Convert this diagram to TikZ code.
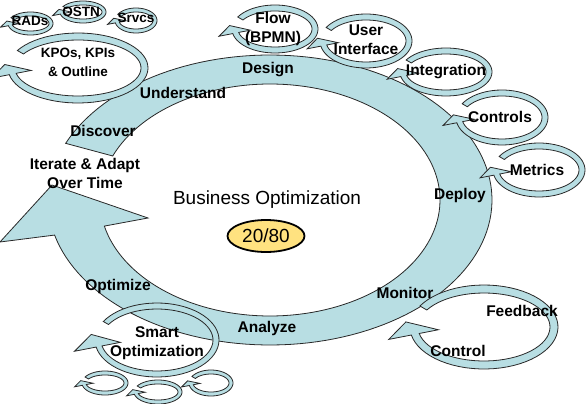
\documentclass[tikz,border=0pt]{standalone}
\usepackage{fontspec}
\setmainfont{Liberation Sans}
\usetikzlibrary{shapes.geometric}

\definecolor{ringblue}{RGB}{184,222,227}
\definecolor{ratioyellow}{RGB}{255,226,128}
\definecolor{edgegray}{RGB}{40,40,40}

\tikzset{
  ringshape/.style={fill=ringblue,draw=edgegray,line width=0.8pt},
  steplbl/.style={font=\fontsize{15.5}{19}\selectfont\bfseries,align=center,inner sep=0pt},
  tinylbl/.style={font=\fontsize{13.5}{19}\selectfont\bfseries,align=center,inner sep=0pt},
}

% cycle arrow: centre x, centre y, x radius, y radius, band width, head size
\newcommand\cyclearrow[6]{%
  \filldraw[ringshape]
    plot[domain=-150:169,samples=60] ({#1+#3*cos(\x)},{#2+#4*sin(\x)})
    -- ({#1+(#3+#6)*cos(169)},{#2+(#4+#6)*sin(169)})
    -- ({#1+(#3+0.2*#6)*cos(169+31.5*#6/#4)},{#2+(#4+0.2*#6)*sin(169+31.5*#6/#4)})
    -- ({#1+(#3-#5-0.85*#6)*cos(169)},{#2+(#4-#5-0.85*#6)*sin(169)})
    -- plot[domain=169:-150,samples=60] ({#1+(#3-#5)*cos(\x)},{#2+(#4-#5)*sin(\x)})
    -- cycle;}

\begin{document}
\begin{tikzpicture}[x=1pt,y=-1pt]
\useasboundingbox (0,0) rectangle (586,404);

% the big cycle
\filldraw[ringshape]
  plot[domain=-157:166,samples=140] ({270+222*cos(\x)},{200+145*sin(\x)})
  -- (0,242) -- (52,185) -- (148,218)
  -- plot[domain=167:-157.7,samples=140] ({270+170*cos(\x)},{200+116*sin(\x)})
  -- cycle;

% small cycles
\cyclearrow{78}{68}{70}{35}{7}{18}
\cyclearrow{30.5}{23.5}{22.5}{11.5}{4}{8}
\cyclearrow{83}{12}{23}{11}{4}{8}
\cyclearrow{136}{20.5}{21}{12.5}{4}{8}
\cyclearrow{275}{29}{43}{24}{6}{14}
\cyclearrow{366}{41}{46}{27}{6}{14}
\cyclearrow{446}{72}{46}{24}{6}{14}
\cyclearrow{502}{117.5}{46}{27.5}{6}{14}
\cyclearrow{539}{170}{46}{27}{6}{14}
\cyclearrow{484}{327}{74}{42}{8}{23}
\cyclearrow{157}{340}{62}{37}{6}{22}
\cyclearrow{105}{383}{23}{12}{4}{8}
\cyclearrow{158}{392}{24}{12}{4}{8}
\cyclearrow{211}{383}{22}{13}{4}{8}

% steps round the cycle
\node[steplbl] (design) at (268,70) {Design};
\node[steplbl] (understand) at (183,93) {Understand};
\node[steplbl] (discover) at (103,131) {Discover};
\node[steplbl] (iterate) at (85,173) {Iterate \& Adapt\\Over Time};
\node[steplbl] (deploy) at (460,195) {Deploy};
\node[steplbl] (monitor) at (405,293) {Monitor};
\node[steplbl] (analyze) at (267,328) {Analyze};
\node[steplbl] (optimize) at (118,286) {Optimize};

% labels of the small cycles
\node[tinylbl] (kpos) at (78,62.5) {KPOs, KPIs\\\& Outline};
\node[tinylbl] (rads) at (30,21) {RADs};
\node[tinylbl] (ostn) at (81,12) {OSTN};
\node[tinylbl] (srvcs) at (136,18) {Srvcs};
\node[steplbl] (flow) at (273,29) {Flow\\(BPMN)};
\node[steplbl] (ui) at (366,40) {User\\Interface};
\node[steplbl] (integ) at (446,72) {Integration};
\node[steplbl] (controls) at (500,117) {Controls};
\node[steplbl] (metrics) at (537,170) {Metrics};
\node[steplbl] (feedback) at (522,311) {Feedback};
\node[steplbl] (control) at (458,351) {Control};
\node[steplbl] (smart) at (157,343) {Smart\\Optimization};

% centre
\node[font=\fontsize{19}{22}\selectfont,inner sep=0pt] (bizopt) at (267,200) {Business Optimization};
\node[ellipse,draw,line width=1.8pt,fill=ratioyellow,minimum width=77pt,minimum height=32pt,inner sep=0pt,
  font=\fontsize{19}{22}\selectfont] (ratio) at (266,236) {20/80};

\end{tikzpicture}
\end{document}
